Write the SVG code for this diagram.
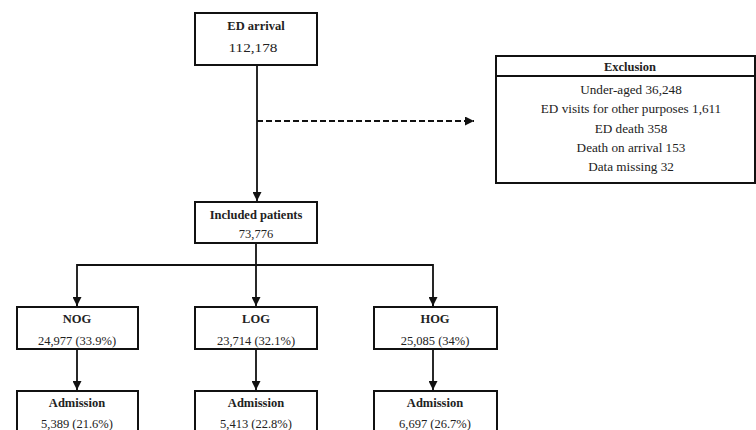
<svg xmlns="http://www.w3.org/2000/svg" width="756" height="430" viewBox="0 0 756 430">
<style>
.box{fill:#fff;stroke:#111;stroke-width:2}
.t{font-family:"Liberation Serif","Times New Roman",serif;font-size:12.5px;fill:#222;text-anchor:middle}
.x{font-size:13.2px}
.b{font-weight:bold}
.ln{stroke:#111;stroke-width:1.8;fill:none}
.dash{stroke:#111;stroke-width:1.8;fill:none;stroke-dasharray:6 3}
</style>
<defs>
<marker id="ah" viewBox="0 0 10 10" refX="10" refY="5" markerWidth="5" markerHeight="5" orient="auto" markerUnits="strokeWidth">
<path d="M0,0 L10,5 L0,10 z" fill="#111"/>
</marker>
</defs>
<rect width="756" height="430" fill="#fff"/>
<g id="connectors">
<line class="ln" x1="257" y1="65" x2="257" y2="201" marker-end="url(#ah)"/>
<line class="dash" x1="257" y1="121" x2="474" y2="121" marker-end="url(#ah)"/>
<line class="ln" x1="256" y1="243" x2="256" y2="265"/>
<polyline class="ln" points="77,306 77,265 433,265 433,306"/>
<line class="ln" x1="77" y1="300" x2="77" y2="306" marker-end="url(#ah)"/>
<line class="ln" x1="433" y1="300" x2="433" y2="306" marker-end="url(#ah)"/>
<line class="ln" x1="256" y1="265" x2="256" y2="306" marker-end="url(#ah)"/>
<line class="ln" x1="77" y1="349" x2="77" y2="390" marker-end="url(#ah)"/>
<line class="ln" x1="256" y1="349" x2="256" y2="390" marker-end="url(#ah)"/>
<line class="ln" x1="433" y1="349" x2="433" y2="390" marker-end="url(#ah)"/>
</g>
<g id="ed_arrival">
<rect class="box" x="195" y="13" width="122" height="52"/>
<text class="t b" x="256" y="30">ED arrival</text>
<text class="t" x="253" y="52" font-size="14" textLength="49" lengthAdjust="spacingAndGlyphs">112,178</text>
</g>
<g id="exclusion">
<rect class="box" x="496" y="56" width="259" height="127"/>
<line class="ln" x1="496" y1="76" x2="755" y2="76"/>
<text class="t b" x="630" y="71">Exclusion</text>
<text class="t x" x="631" y="94">Under-aged 36,248</text>
<text class="t x" x="631" y="113">ED visits for other purposes 1,611</text>
<text class="t x" x="631" y="133">ED death 358</text>
<text class="t x" x="631" y="152">Death on arrival 153</text>
<text class="t x" x="631" y="171">Data missing 32</text>
</g>
<g id="included">
<rect class="box" x="195" y="202" width="122" height="41"/>
<text class="t b" x="256" y="219">Included patients</text>
<text class="t" x="256" y="238">73,776</text>
</g>
<g id="nog">
<rect class="box" x="17" y="307" width="121" height="42"/>
<text class="t b" x="77" y="323">NOG</text>
<text class="t" x="77" y="345">24,977 (33.9%)</text>
</g>
<g id="log">
<rect class="box" x="195" y="307" width="122" height="42"/>
<text class="t b" x="256" y="323">LOG</text>
<text class="t" x="256" y="345">23,714 (32.1%)</text>
</g>
<g id="hog">
<rect class="box" x="374" y="307" width="123" height="42"/>
<text class="t b" x="435" y="323">HOG</text>
<text class="t" x="435" y="345">25,085 (34%)</text>
</g>
<g id="adm_nog">
<rect class="box" x="17" y="391" width="121" height="50"/>
<text class="t b" x="77" y="407">Admission</text>
<text class="t" x="77" y="428">5,389 (21.6%)</text>
</g>
<g id="adm_log">
<rect class="box" x="195" y="391" width="122" height="50"/>
<text class="t b" x="256" y="407">Admission</text>
<text class="t" x="256" y="428">5,413 (22.8%)</text>
</g>
<g id="adm_hog">
<rect class="box" x="374" y="391" width="123" height="50"/>
<text class="t b" x="435" y="407">Admission</text>
<text class="t" x="435" y="428">6,697 (26.7%)</text>
</g>
</svg>
